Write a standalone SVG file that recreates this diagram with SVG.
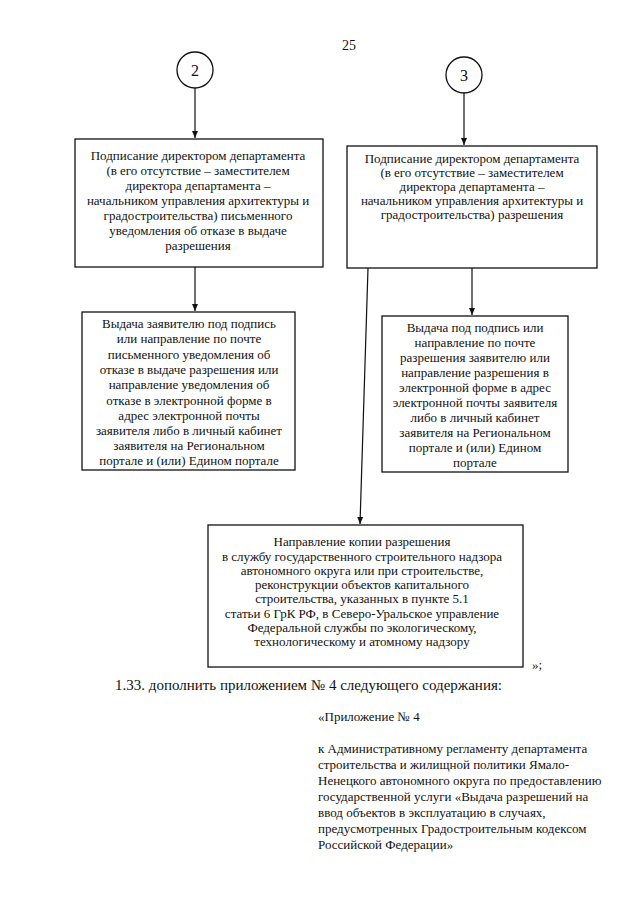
<svg xmlns="http://www.w3.org/2000/svg" width="640" height="905" viewBox="0 0 640 905">
<style>
.t{font-family:"Liberation Serif","Times New Roman",serif;font-size:13px;fill:#111;text-anchor:middle}
.b{fill:#fff;stroke:#111;stroke-width:1.3}
.c{stroke:#111;stroke-width:1.2;fill:none}
.p{font-family:"Liberation Serif","Times New Roman",serif;fill:#111}
</style>
<defs>
<marker id="ah" markerWidth="8" markerHeight="8" refX="7" refY="4" orient="auto" markerUnits="userSpaceOnUse">
<path d="M0,1 L7,4 L0,7 Z" fill="#111"/>
</marker>
</defs>
<rect width="640" height="905" fill="#fff"/>
<text class="p" x="349" y="50" font-size="14" text-anchor="middle">25</text>

<g id="connectors">
<line class="c" x1="195" y1="88" x2="195" y2="138" marker-end="url(#ah)"/>
<line class="c" x1="464" y1="93" x2="464" y2="145" marker-end="url(#ah)"/>
<line class="c" x1="195" y1="267" x2="195" y2="311" marker-end="url(#ah)"/>
<line class="c" x1="472" y1="268" x2="472" y2="315" marker-end="url(#ah)"/>
<line class="c" x1="368" y1="268" x2="360" y2="524" marker-end="url(#ah)"/>
</g>

<g id="c2">
<circle class="b" cx="195" cy="70" r="18"/>
<text class="p" x="195" y="76" font-size="16" text-anchor="middle">2</text>
</g>
<g id="c3">
<circle class="b" cx="464" cy="75" r="18"/>
<text class="p" x="464" y="81" font-size="16" text-anchor="middle">3</text>
</g>

<g id="box1">
<rect class="b" x="75" y="139" width="248" height="128"/>
<text class="t" x="198" y="160">Подписание директором департамента</text>
<text class="t" x="198" y="175">(в его отсутствие – заместителем</text>
<text class="t" x="198" y="190">директора департамента –</text>
<text class="t" x="198" y="205">начальником управления архитектуры и</text>
<text class="t" x="198" y="220">градостроительства) письменного</text>
<text class="t" x="198" y="235">уведомления об отказе в выдаче</text>
<text class="t" x="198" y="250">разрешения</text>
</g>

<g id="box2">
<rect class="b" x="347" y="146" width="250" height="122"/>
<text class="t" x="472" y="163">Подписание директором департамента</text>
<text class="t" x="472" y="177">(в его отсутствие – заместителем</text>
<text class="t" x="472" y="191">директора департамента –</text>
<text class="t" x="472" y="205">начальником управления архитектуры и</text>
<text class="t" x="472" y="219">градостроительства) разрешения</text>
</g>

<g id="box3">
<rect class="b" x="82" y="312" width="213" height="158"/>
<text class="t" x="189" y="328">Выдача заявителю под подпись</text>
<text class="t" x="189" y="343">или направление по почте</text>
<text class="t" x="189" y="359">письменного уведомления об</text>
<text class="t" x="189" y="374">отказе в выдаче разрешения или</text>
<text class="t" x="189" y="389">направление уведомления об</text>
<text class="t" x="189" y="405">отказе в электронной форме в</text>
<text class="t" x="189" y="420">адрес электронной почты</text>
<text class="t" x="189" y="435">заявителя либо в личный кабинет</text>
<text class="t" x="189" y="450">заявителя на Региональном</text>
<text class="t" x="189" y="465">портале и (или) Едином портале</text>
</g>

<g id="box4">
<rect class="b" x="382" y="316" width="186" height="156"/>
<text class="t" x="475" y="332">Выдача под подпись или</text>
<text class="t" x="475" y="347">направление по почте</text>
<text class="t" x="475" y="362">разрешения заявителю или</text>
<text class="t" x="475" y="377">направление разрешения в</text>
<text class="t" x="475" y="392">электронной форме в адрес</text>
<text class="t" x="475" y="407">электронной почты заявителя</text>
<text class="t" x="475" y="422">либо в личный кабинет</text>
<text class="t" x="475" y="437">заявителя на Региональном</text>
<text class="t" x="475" y="452">портале и (или) Едином</text>
<text class="t" x="475" y="467">портале</text>
</g>

<g id="box5">
<rect class="b" x="208" y="525" width="315" height="142"/>
<text class="t" x="362" y="546">Направление копии разрешения</text>
<text class="t" x="362" y="561">в службу государственного строительного надзора</text>
<text class="t" x="362" y="575">автономного округа или при строительстве,</text>
<text class="t" x="362" y="589">реконструкции объектов капитального</text>
<text class="t" x="362" y="603">строительства, указанных в пункте 5.1</text>
<text class="t" x="362" y="618">статьи 6 ГрК РФ, в Северо-Уральское управление</text>
<text class="t" x="362" y="632">Федеральной службы по экологическому,</text>
<text class="t" x="362" y="646">технологическому и атомному надзору</text>
</g>

<text class="p" x="532" y="669" font-size="13">»;</text>
<text class="p" x="115" y="690" font-size="15">1.33. дополнить приложением № 4 следующего содержания:</text>
<text class="p" x="318" y="721" font-size="13">«Приложение № 4</text>
<text class="p" font-size="13">
<tspan x="318" y="753">к Административному регламенту департамента</tspan>
<tspan x="318" y="769">строительства и жилищной политики  Ямало-</tspan>
<tspan x="318" y="785">Ненецкого автономного округа по предоставлению</tspan>
<tspan x="318" y="801">государственной услуги «Выдача разрешений на</tspan>
<tspan x="318" y="817">ввод объектов в эксплуатацию в случаях,</tspan>
<tspan x="318" y="833">предусмотренных Градостроительным кодексом</tspan>
<tspan x="318" y="849">Российской Федерации»</tspan>
</text>
</svg>
